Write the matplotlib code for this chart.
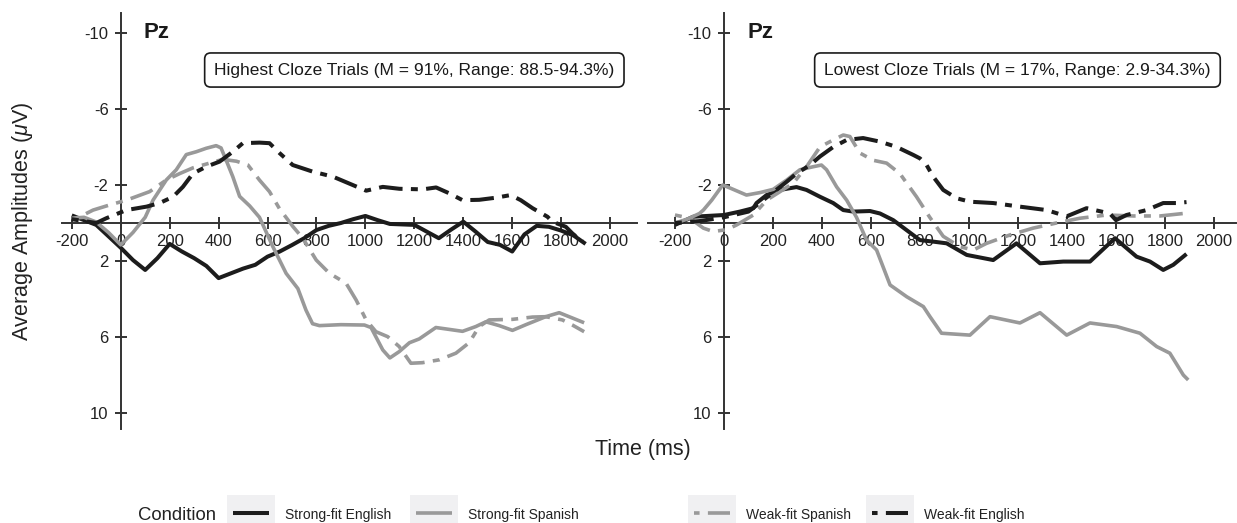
import matplotlib
matplotlib.use('Agg')
import matplotlib.pyplot as plt
from matplotlib.lines import Line2D
from matplotlib.patches import Rectangle

plt.rcParams['font.family'] = ['Liberation Sans', 'DejaVu Sans']
plt.rcParams['lines.scale_dashes'] = False
plt.rcParams['mathtext.fontset'] = 'custom'
plt.rcParams['mathtext.rm'] = 'Liberation Sans'
plt.rcParams['mathtext.it'] = 'Liberation Sans:italic'

# ---------------- data ----------------
conditions = ['Strong-fit English', 'Strong-fit Spanish', 'Weak-fit Spanish', 'Weak-fit English']
panel_titles = ['Highest Cloze Trials (M = 91%, Range: 88.5-94.3%)',
                'Lowest Cloze Trials (M = 17%, Range: 2.9-34.3%)']
electrode = 'Pz'
x_ticks = list(range(-200, 2001, 200))
y_ticks = [-10, -6, -2, 2, 6, 10]

# Left panel (highest cloze)
L_SE_t = [-200, -150, -100, -50, 0, 50, 100, 150, 200, 250, 300, 350, 400, 450, 500, 550, 600, 650, 700,
          750, 800, 850, 900, 950, 1000, 1050, 1100, 1200, 1250, 1300, 1350, 1400, 1450, 1500, 1550, 1600,
          1650, 1700, 1750, 1800, 1850, 1900]
L_SE_v = [-0.4, -0.15, 0.1, 0.7, 1.3, 1.95, 2.47, 1.85, 1.1, 1.5, 1.85, 2.26, 2.9, 2.65, 2.4, 2.2, 1.77, 1.5,
          1.16, 0.8, 0.37, 0.15, 0.0, -0.2, -0.37, -0.15, 0.05, 0.1, 0.45, 0.8, 0.35, -0.07, 0.45, 1.0, 1.15,
          1.5, 0.6, 0.15, 0.2, 0.4, 0.65, 1.1]

L_SS_t = [-200, -150, -100, -50, 0, 50, 100, 132, 186, 227, 268, 309, 349, 390, 410, 431, 458, 486, 527, 567,
          622, 676, 724, 757, 784, 812, 900, 996, 1023, 1071, 1100, 1138, 1180, 1220, 1288, 1343, 1397, 1451,
          1492, 1547, 1601, 1656, 1737, 1792, 1846, 1894]
L_SS_v = [-0.25, -0.3, -0.05, 0.5, 1.15, 0.5, -0.3, -1.2, -2.26, -2.8, -3.6, -3.75, -3.93, -4.07, -3.95, -3.3,
          -2.44, -1.4, -0.9, -0.3, 1.25, 2.65, 3.45, 4.58, 5.3, 5.4, 5.35, 5.37, 5.5, 6.68, 7.1, 6.77, 6.3, 6.1,
          5.5, 5.6, 5.7, 5.45, 5.2, 5.4, 5.65, 5.35, 4.93, 4.72, 5.0, 5.25]

L_WS_t = [-200, -167, -113, -45, 23, 118, 186, 241, 295, 363, 418, 473, 520, 567, 608, 649, 704, 744, 799, 853,
          921, 962, 1003, 1043, 1091, 1138, 1186, 1233, 1302, 1370, 1424, 1465, 1506, 1601, 1683, 1737, 1805,
          1846, 1894]
L_WS_v = [-0.2, -0.33, -0.68, -0.95, -1.2, -1.65, -2.26, -2.6, -2.9, -3.15, -3.35, -3.25, -3.05, -2.26, -1.65,
          -0.75, 0.19, 0.8, 1.95, 2.65, 3.17, 4.05, 5.1, 5.72, 5.98, 6.5, 7.38, 7.35, 7.2, 6.85, 6.3, 5.45, 5.1,
          5.07, 4.95, 4.93, 5.1, 5.37, 5.72]

L_WE_t = [-200, -150, -100, -59, 23, 105, 159, 214, 254, 295, 349, 404, 458, 499, 567, 608, 649, 703, 785, 867,
          948, 1003, 1071, 1139, 1234, 1289, 1343, 1397, 1465, 1533, 1594, 1635, 1683, 1744, 1764, 1819, 1846,
          1887]
L_WE_v = [-0.2, -0.1, 0.0, -0.25, -0.68, -0.86, -1.05, -1.38, -1.9, -2.6, -2.96, -3.23, -3.75, -4.2, -4.23,
          -4.2, -3.68, -3.05, -2.7, -2.44, -2.0, -1.7, -1.9, -1.8, -1.77, -1.87, -1.56, -1.2, -1.22, -1.33,
          -1.47, -1.2, -0.78, -0.33, -0.07, 0.2, 0.55, 0.98]

# Right panel (lowest cloze)
R_SE_t = [-200, -125, 0, 65, 120, 133, 174, 229, 296, 337, 392, 446, 487, 528, 596, 637, 691, 745, 800, 854,
          909, 991, 1099, 1194, 1290, 1385, 1494, 1596, 1684, 1739, 1793, 1834, 1888]
R_SE_v = [0.1, -0.33, -0.42, -0.6, -0.78, -1.05, -1.47, -1.74, -1.89, -1.74, -1.38, -1.05, -0.68, -0.6, -0.63,
          -0.5, -0.15, 0.37, 0.9, 0.98, 1.07, 1.68, 1.95, 1.07, 2.12, 2.03, 2.03, 0.8, 1.77, 2.03, 2.47, 2.2,
          1.63]

R_SS_t = [-200, -150, -100, -84, -50, -5, 25, 92, 147, 201, 256, 310, 364, 398, 419, 460, 501, 541, 582, 623,
          678, 746, 814, 841, 888, 1004, 1086, 1208, 1290, 1399, 1494, 1603, 1698, 1766, 1820, 1875, 1895]
R_SS_v = [0.0, -0.2, -0.5, -0.68, -1.2, -2.0, -1.84, -1.47, -1.6, -1.77, -2.26, -2.8, -2.96, -3.05, -2.8, -1.9,
          -1.2, -0.3, 0.9, 1.42, 3.26, 3.88, 4.4, 4.93, 5.8, 5.9, 4.93, 5.26, 4.72, 5.9, 5.26, 5.45, 5.8, 6.5,
          6.85, 8.0, 8.26]

R_WS_t = [-200, -139, -84, -44, 11, 52, 120, 174, 229, 283, 337, 392, 446, 487, 514, 555, 609, 664, 718, 786,
          840, 895, 963, 1018, 1072, 1167, 1262, 1357, 1453, 1562, 1671, 1780, 1875]
R_WS_v = [-0.42, -0.25, 0.27, 0.45, 0.35, 0.1, -0.42, -1.2, -1.65, -2.1, -2.96, -4.0, -4.37, -4.63, -4.55,
          -3.68, -3.3, -3.15, -2.6, -1.38, -0.3, 0.7, 1.25, 1.42, 1.07, 0.63, 0.27, 0.0, -0.25, -0.42, -0.37,
          -0.37, -0.5]

R_WE_t = [-200, -100, 0, 100, 150, 200, 256, 296, 351, 392, 446, 501, 568, 637, 705, 773, 800, 827, 854, 895,
          950, 1004, 1099, 1208, 1317, 1399, 1480, 1575, 1600, 1643, 1725, 1793, 1848, 1888]
R_WE_v = [0.0, -0.1, -0.3, -0.6, -1.1, -1.6, -2.17, -2.6, -3.05, -3.5, -4.0, -4.37, -4.47, -4.28, -4.0, -3.58,
          -3.4, -3.05, -2.44, -1.74, -1.3, -1.12, -1.05, -0.86, -0.68, -0.35, -0.78, -0.5, -0.15, -0.42, -0.68,
          -1.05, -1.05, -1.1]

left_series = [(L_SE_t, L_SE_v), (L_SS_t, L_SS_v), (L_WS_t, L_WS_v), (L_WE_t, L_WE_v)]
right_series = [(R_SE_t, R_SE_v), (R_SS_t, R_SS_v), (R_WS_t, R_WS_v), (R_WE_t, R_WE_v)]

# ---------------- styles ----------------
BLACK = '#1c1c1c'
GRAY = '#999999'
AXC = '#333333'
DASH = (0, (5, 6, 17, 6))
styles = [dict(color=BLACK, lw=2.9, ls='-'),
          dict(color=GRAY, lw=2.6, ls='-'),
          dict(color=GRAY, lw=2.6, ls=DASH),
          dict(color=BLACK, lw=2.9, ls=DASH)]

W, H = 1237, 523
fig = plt.figure(figsize=(W / 100, H / 100), dpi=100)


def fx(px):
    return px / W


def fy(py):
    return 1 - py / H


axL = fig.add_axes([fx(62), fy(429), (637 - 62) / W, (429 - 13) / H])
axR = fig.add_axes([fx(648), fy(429), (1236 - 648) / W, (429 - 13) / H])

for ax, series, title, xlim, boxx in [(axL, left_series, panel_titles[0], (-240, 2110), 1200),
                                      (axR, right_series, panel_titles[1], (-310, 2090), 1198)]:
    ax.set_facecolor('none')
    for (t, v), st in zip(series, styles):
        ax.plot(t, v, color=st['color'], lw=st['lw'], linestyle=st['ls'],
                solid_joinstyle='round', solid_capstyle='butt', dash_capstyle='butt', zorder=3)
    ax.set_xlim(*xlim)
    ax.set_ylim(10.84, -11.05)
    ax.set_axisbelow(True)
    for s in ['top', 'right']:
        ax.spines[s].set_visible(False)
    ax.spines['left'].set_position(('data', 0))
    ax.spines['bottom'].set_position(('data', 0))
    for s in ['left', 'bottom']:
        ax.spines[s].set_color(AXC)
        ax.spines[s].set_linewidth(1.4)
        ax.spines[s].set_zorder(1)
    ax.set_xticks(x_ticks)
    ax.set_xticklabels([str(x) for x in x_ticks])
    ax.set_yticks(y_ticks)
    ax.set_yticklabels([str(y) for y in y_ticks])
    ax.tick_params(axis='both', direction='inout', length=8.6, width=1.4, color=AXC,
                   labelsize=12, labelcolor='#222222')
    ax.tick_params(axis='y', pad=4.5)
    ax.tick_params(axis='x', pad=3.4)
    ax.text(148, -10, electrode, fontsize=16, fontweight='bold', ha='center', va='center', color='#1a1a1a')
    ax.text(boxx, -8.05, title, fontsize=12.5, ha='center', va='center', color='#1a1a1a', zorder=5,
            bbox=dict(boxstyle='round,pad=0.55,rounding_size=0.35', fc='white', ec='#1a1a1a', lw=1.2))

fig.text(fx(23), fy(221), 'Average Amplitudes ($\\mu$V)', rotation=90, fontsize=15.5,
         ha='center', va='center', color='#222222')
fig.text(fx(643), fy(450), 'Time (ms)', fontsize=15.5, ha='center', va='center', color='#222222')

# ---------------- legend ----------------
fig.text(fx(138), fy(519.5), 'Condition', fontsize=13.3, ha='left', va='baseline', color='#222222')
key_x = [227, 410, 688, 866]
leg_dash = (0, (4, 6, 16, 6))
for kx, name, st in zip(key_x, conditions, styles):
    fig.add_artist(Rectangle((fx(kx), fy(532)), 48 / W, 37 / H, transform=fig.transFigure,
                             fc='#f0f0f2', ec='none'))
    ls = '-' if st['ls'] == '-' else leg_dash
    fig.add_artist(Line2D([fx(kx + 6), fx(kx + 42)], [fy(512.5), fy(512.5)], transform=fig.transFigure,
                          color=st['color'], lw=st['lw'], linestyle=ls, solid_capstyle='butt',
                          dash_capstyle='butt'))
    fig.text(fx(kx + 58), fy(518.5), name, fontsize=10, ha='left', va='baseline', color='#222222')

fig.savefig('out.png', dpi=100, facecolor='white')
